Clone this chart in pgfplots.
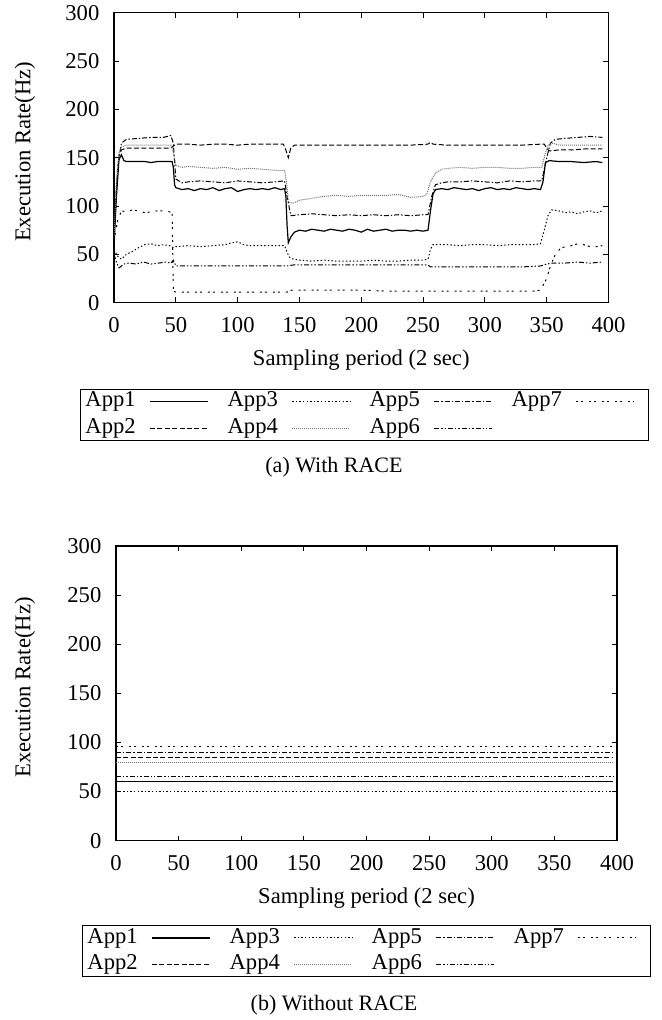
\documentclass[border=0pt]{standalone}
\usepackage{fontspec}
\setmainfont{Liberation Serif}
\usepackage{pgfplots}
\pgfplotsset{compat=1.18}

\pgfplotsset{
  app1/.style={black, solid, line width=0.6pt},
  app2/.style={black, line width=0.5pt, dash pattern=on 2.5pt off 1.2pt},
  app3/.style={black, line width=0.5pt, dash pattern=on 0.7pt off 1.1pt},
  app4/.style={black!55, line width=0.5pt, dash pattern=on 0.5pt off 0.5pt},
  app5/.style={black, line width=0.5pt, dash pattern=on 2.5pt off 1pt on 0.7pt off 1pt},
  app6/.style={black, line width=0.5pt, dash pattern=on 2.5pt off 1pt on 0.7pt off 1pt on 0.7pt off 1pt},
  app7/.style={black, line width=0.5pt, dash pattern=on 1pt off 1.5pt on 1pt off 3pt},
  myaxis/.style={
    scale only axis,
    xmin=0,xmax=400,ymin=0,ymax=300,
    xtick={0,50,...,400}, ytick={0,50,...,300},
    tick align=inside,
    major tick length=2.6pt,
    axis line style={line width=0.6pt},
    every tick/.style={black, line width=0.5pt},
    font=\fontsize{11.3}{13.5}\selectfont,
    /pgf/number format/assume math mode=true,
    xticklabel style={yshift=-3.8pt},
    yticklabel style={xshift=-3.8pt},
    ylabel={Execution Rate(Hz)},
    xlabel={Sampling period (2 sec)},
    legend columns=4,
    legend plot pos=right,
    legend cell align=left,
    legend image code/.code={\draw[##1] (0pt,0pt) -- (29pt,0pt); \path (33.5pt,0pt);},
    legend style={draw=black, line width=0.5pt, inner xsep=2.5pt, inner ysep=1.25pt,
      font=\fontsize{11.3}{13.5}\selectfont,
      nodes={inner sep=0pt, text width=25pt, align=left, text height=7.6pt, text depth=2.4pt},
      row sep=3.25pt,
      /tikz/every odd column/.style={column sep=7pt},
      /tikz/every even column/.style={column sep=5pt}},
  }
}

\begin{document}
\begin{tikzpicture}
% ---------------- (a) With RACE ----------------
\begin{axis}[myaxis,
  at={(57pt,-151.35pt)}, anchor=south west,
  width=247.25pt, height=145pt,
  every axis y label/.style={at={(axis description cs:-0.18,0.52)}, rotate=90, anchor=center},
  every axis x label/.style={at={(axis description cs:0.5,-0.197)}, anchor=center},
  legend style={at={(axis description cs:-0.0688,-0.2959)}, anchor=north west},
]
\addplot[app1] coordinates {(0,60) (2,110) (4,148) (6,153) (8,147) (10,146) (15,146) (20,146) (25,146) (30,145) (35,146) (40,146) (45,146) (47,146) (48,140) (49,122) (50,119) (55,117) (60,118) (65,116) (70,118) (75,117) (80,119) (85,116) (90,118) (95,119) (100,115) (105,117) (110,118) (115,117) (120,118) (125,117) (130,119) (135,117) (138,118) (139,110) (140,80) (141,62) (143,68) (146,73) (150,75) (155,74) (160,76) (165,75) (170,74) (175,76) (180,75) (185,74) (190,76) (195,75) (200,73) (205,76) (210,74) (215,75) (220,76) (225,74) (230,75) (235,75) (240,74) (245,75) (250,74) (254,75) (256,95) (258,112) (260,117) (265,118) (270,117) (275,119) (280,118) (285,117) (290,118) (295,116) (300,118) (305,119) (310,117) (315,118) (320,117) (325,119) (330,118) (335,117) (340,118) (345,117) (347,125) (349,145) (352,147) (360,146) (370,146) (380,145) (390,146) (395,145)};
\addlegendentry{App1}
\addplot[app3] coordinates {(0,55) (3,48) (6,45) (10,50) (15,53) (20,57) (25,60) (30,61) (35,59) (40,60) (45,59) (48,57) (50,58) (60,59) (70,58) (80,59) (90,60) (95,62) (100,63) (105,60) (110,59) (120,59) (130,59) (138,59) (140,52) (142,47) (145,45) (150,44) (160,43) (170,44) (180,43) (190,43) (200,43) (210,44) (220,43) (230,43) (240,44) (250,44) (254,45) (256,55) (258,60) (270,60) (280,59) (290,60) (300,60) (310,59) (320,60) (330,60) (340,60) (345,61) (348,75) (351,90) (354,96) (360,95) (365,93) (370,94) (375,92) (380,94) (385,95) (390,93) (395,95)};
\addlegendentry{App3}
\addplot[app5] coordinates {(0,70) (3,140) (6,165) (10,169) (20,170) (30,171) (40,171) (46,173) (48,165) (50,128) (55,124) (60,125) (70,126) (80,125) (90,124) (100,126) (110,125) (120,124) (130,125) (138,126) (140,110) (143,90) (150,91) (160,92) (170,91) (180,90) (190,91) (200,90) (210,91) (220,90) (230,91) (240,90) (250,91) (254,91) (257,110) (260,122) (265,124) (270,125) (280,125) (290,126) (300,125) (310,124) (320,126) (330,125) (340,126) (346,126) (350,150) (353,165) (357,169) (365,170) (375,171) (385,172) (395,171)};
\addlegendentry{App5}
\addplot[app7] coordinates {(0,65) (3,85) (6,95) (10,94) (15,96) (20,95) (25,93) (30,94) (35,95) (40,95) (45,94) (47,93) (48,12) (50,11) (60,11) (70,11) (80,11) (90,11) (100,11) (110,11) (120,11) (130,11) (140,11) (144,13) (150,13) (160,13) (180,13) (200,13) (220,12) (240,12) (260,12) (280,12) (300,12) (320,12) (340,12) (345,13) (350,25) (353,38) (357,50) (361,56) (365,58) (370,59) (375,61) (380,60) (385,58) (390,58) (395,59)};
\addlegendentry{App7}
\addplot[app2] coordinates {(0,65) (2,120) (4,152) (6,158) (10,160) (20,160) (30,160) (40,160) (46,160) (48,162) (50,164) (60,164) (70,163) (80,164) (90,164) (100,163) (110,164) (120,164) (130,164) (137,164) (139,158) (141,150) (143,160) (146,163) (160,163) (180,163) (200,163) (220,163) (240,163) (254,164) (256,166) (258,164) (270,163) (290,163) (310,163) (330,163) (345,164) (348,164) (350,160) (352,157) (360,158) (370,158) (380,159) (395,159)};
\addlegendentry{App2}
\addplot[app4] coordinates {(0,70) (2,125) (4,155) (6,161) (10,163) (20,163) (30,163) (40,163) (46,163) (48,155) (50,142) (55,140) (60,141) (70,140) (80,139) (90,140) (100,138) (110,139) (120,138) (130,137) (138,137) (140,120) (141,104) (145,103) (150,106) (160,108) (170,110) (180,111) (190,110) (200,111) (210,111) (220,111) (230,112) (240,109) (250,110) (253,112) (256,125) (260,134) (265,138) (270,139) (280,140) (290,139) (300,140) (310,140) (320,139) (330,139) (340,140) (346,140) (349,155) (351,163) (355,165) (360,163) (370,163) (380,163) (395,163)};
\addlegendentry{App4}
\addplot[app6] coordinates {(0,50) (2,42) (4,36) (8,40) (12,41) (18,40) (24,42) (30,40) (36,41) (42,42) (46,41) (48,44) (50,38) (60,38) (80,38) (100,38) (120,38) (140,38) (145,39) (160,39) (180,39) (200,39) (220,39) (240,39) (254,39) (256,37) (270,37) (290,37) (310,37) (330,37) (345,38) (350,40) (355,41) (365,41) (375,42) (385,41) (395,42)};
\addlegendentry{App6}
\end{axis}
\node[font=\fontsize{11}{13}\selectfont] at (167pt,-233.5pt) {(a) With RACE};

% ---------------- (b) Without RACE ----------------
\begin{axis}[myaxis,
  at={(58pt,-420.35pt)}, anchor=south west,
  width=250.5pt, height=147.35pt,
  every axis y label/.style={at={(axis description cs:-0.1816,0.52)}, rotate=90, anchor=center},
  every axis x label/.style={at={(axis description cs:0.5,-0.1944)}, anchor=center},
  legend style={at={(axis description cs:-0.0679,-0.286)}, anchor=north west},
]
\addplot[app1] coordinates {(0,60) (397,60)};
\addlegendentry{App1}
\addplot[app3] coordinates {(0,50) (397,50)};
\addlegendentry{App3}
\addplot[app5] coordinates {(0,90) (397,90)};
\addlegendentry{App5}
\addplot[app7] coordinates {(0,96) (397,96)};
\addlegendentry{App7}
\addplot[app2] coordinates {(0,85) (397,85)};
\addlegendentry{App2}
\addplot[app4] coordinates {(0,80) (397,80)};
\addlegendentry{App4}
\addplot[app6] coordinates {(0,65) (397,65)};
\addlegendentry{App6}
\end{axis}
\node[font=\fontsize{11}{13}\selectfont] at (167pt,-502.5pt) {(b) Without RACE};

\pgfresetboundingbox
\path[use as bounding box] (0pt,0pt) rectangle (331pt,-510pt);
\end{tikzpicture}
\end{document}
